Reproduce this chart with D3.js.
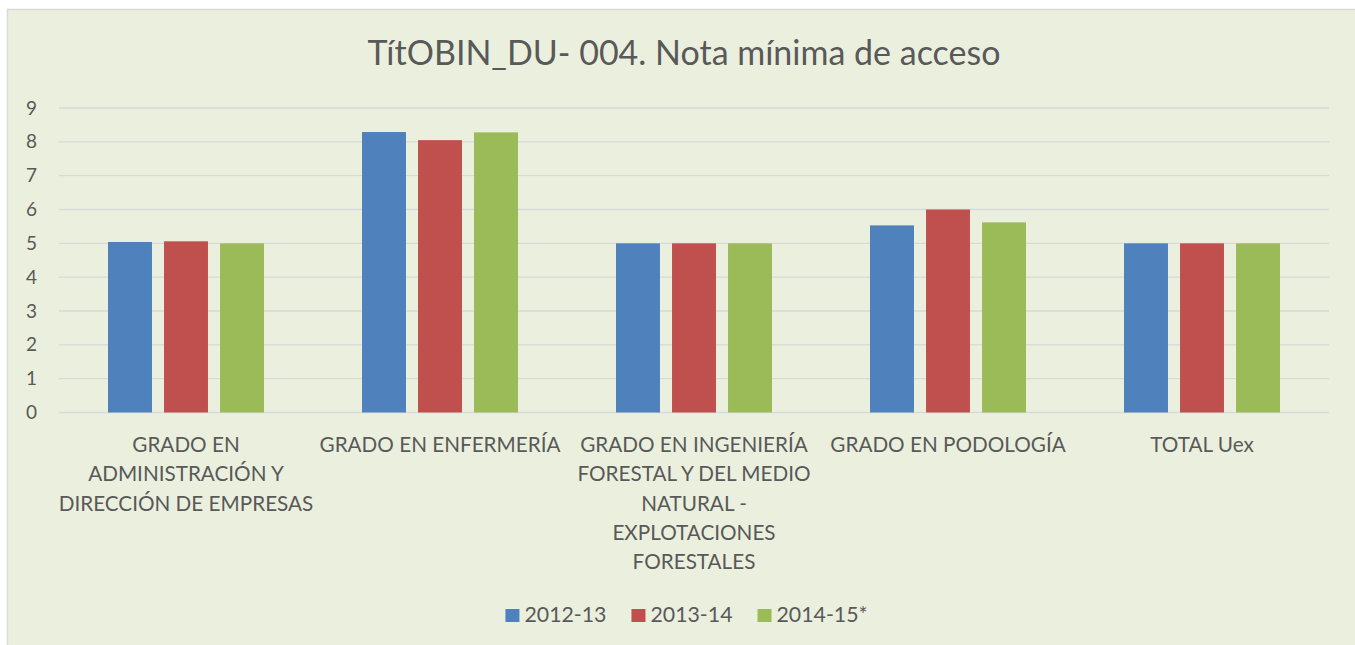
<!DOCTYPE html>
<html>
<head>
<meta charset="utf-8">
<script src="https://cdn.jsdelivr.net/npm/d3@7"></script>
<style>
  html, body { margin: 0; padding: 0; background: #fff; }
  svg text { font-family: Lato, "Open Sans", sans-serif; fill: #595959; }
</style>
</head>
<body>
<div id="chart"></div>
<script>
const titleText = "TítOBIN_DU- 004. Nota mínima de acceso";
const categories = [
  "GRADO EN\nADMINISTRACIÓN Y\nDIRECCIÓN DE EMPRESAS",
  "GRADO EN ENFERMERÍA",
  "GRADO EN INGENIERÍA\nFORESTAL Y DEL MEDIO\nNATURAL -\nEXPLOTACIONES\nFORESTALES",
  "GRADO EN PODOLOGÍA",
  "TOTAL Uex"
];
const seriesNames = ["2012-13", "2013-14", "2014-15*"];
const seriesColors = ["#4f81bd", "#c0504d", "#9bbb59"];
const values2012 = [5.04, 8.29, 5.0, 5.53, 5.0];
const values2013 = [5.06, 8.05, 5.0, 6.0, 5.0];
const values2014 = [5.0, 8.28, 5.0, 5.62, 5.0];
const yTicks = [0, 1, 2, 3, 4, 5, 6, 7, 8, 9];

const seriesValues = [values2012, values2013, values2014];

(function(){
  const width = 1355, height = 645;
  const svg = d3.select("#chart").append("svg")
    .attr("width", width)
    .attr("height", height);

  // chart area background + border
  svg.append("rect")
    .attr("x", 7.5).attr("y", 9.5)
    .attr("width", width + 10).attr("height", height + 10)
    .attr("fill", "#ebf0de")
    .attr("stroke", "#d9d9d9")
    .attr("stroke-width", 1.5);

  const plot = { left: 59, right: 1329, top: 108, bottom: 412.5 };

  const x = d3.scaleBand()
    .domain(d3.range(categories.length))
    .range([plot.left, plot.right]);

  const y = d3.scaleLinear()
    .domain([0, 9])
    .range([plot.bottom, plot.top]);

  const groupPad = 49;
  const x1 = d3.scaleBand()
    .domain(d3.range(seriesNames.length))
    .range([groupPad, x.bandwidth() - groupPad])
    .paddingInner(0.215);

  // title
  svg.append("text")
    .attr("x", 684)
    .attr("y", 65)
    .attr("text-anchor", "middle")
    .style("font-size", "34px")
    .text(titleText);

  // gridlines
  svg.append("g")
    .selectAll("line")
    .data(yTicks)
    .enter()
    .append("line")
    .attr("x1", plot.left).attr("x2", plot.right)
    .attr("y1", d => y(d)).attr("y2", d => y(d))
    .attr("stroke", "#d9d9d9")
    .attr("stroke-width", 1.4);

  // y axis (labels only)
  const yAxis = svg.append("g")
    .attr("transform", `translate(${plot.left},0)`)
    .call(d3.axisLeft(y).tickValues(yTicks).tickSize(0).tickPadding(22));
  yAxis.select(".domain").remove();
  yAxis.selectAll("text")
    .attr("fill", "#595959")
    .style("font-family", "Lato, 'Open Sans', sans-serif")
    .style("font-size", "19px");

  // bars
  const groups = svg.append("g")
    .selectAll("g")
    .data(categories.map((c, i) => i))
    .enter()
    .append("g")
    .attr("transform", i => `translate(${x(i)},0)`);

  groups.selectAll("rect")
    .data(i => seriesValues.map((vals, s) => ({ s: s, v: vals[i] })))
    .enter()
    .append("rect")
    .attr("x", d => x1(d.s))
    .attr("width", x1.bandwidth())
    .attr("y", d => y(d.v))
    .attr("height", d => y(0) - y(d.v))
    .attr("fill", d => seriesColors[d.s]);

  // x labels (multi-line)
  const lineH = 29.3;
  const xl = svg.append("g")
    .selectAll("text")
    .data(categories)
    .enter()
    .append("text")
    .attr("text-anchor", "middle")
    .style("font-size", "20.7px")
    .attr("transform", (d, i) => `translate(${x(i) + x.bandwidth() / 2},452)`);
  xl.selectAll("tspan")
    .data(d => d.split("\n"))
    .enter()
    .append("tspan")
    .attr("x", 0)
    .attr("y", (d, j) => j * lineH)
    .text(d => d);

  // legend
  const legend = svg.append("g");
  const items = legend.selectAll("g")
    .data(seriesNames)
    .enter()
    .append("g");
  items.append("rect")
    .attr("width", 14).attr("height", 13)
    .attr("y", 609)
    .attr("fill", (d, i) => seriesColors[i]);
  items.append("text")
    .attr("x", 19)
    .attr("y", 622)
    .style("font-size", "21.3px")
    .text(d => d);

  let cur = 0;
  const itemGap = 25;
  items.each(function() {
    const w = 19 + d3.select(this).select("text").node().getComputedTextLength();
    d3.select(this).attr("transform", `translate(${cur},0)`);
    cur += w + itemGap;
  });
  const total = cur - itemGap;
  legend.attr("transform", `translate(${686.5 - total / 2},0)`);
})();
</script>
</body>
</html>
